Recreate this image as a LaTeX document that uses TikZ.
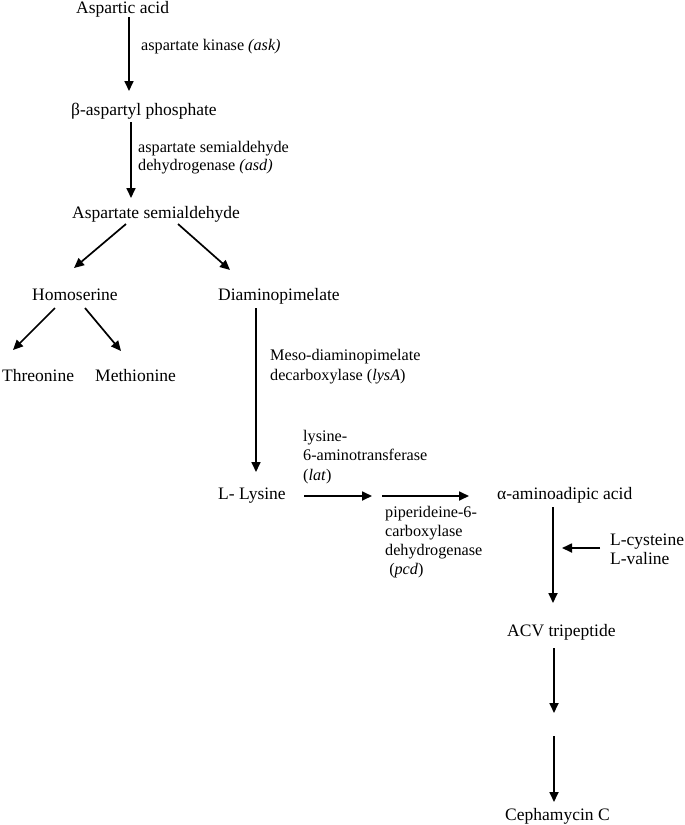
\documentclass[tikz,border=0pt]{standalone}
\usepackage{fontspec}
\setmainfont{Liberation Serif}
\usetikzlibrary{arrows.meta}
\begin{document}
\begin{tikzpicture}[x=1pt,y=-1pt,
  cmpd/.style={anchor=base west,inner sep=0pt,font=\fontsize{17.5}{21}\selectfont},
  enz/.style={anchor=base west,inner sep=0pt,align=left,font=\fontsize{16.2}{18.5}\selectfont},
  arr/.style={draw=black,line width=1.7pt,-{Triangle[length=10pt,width=9pt]}}]
\useasboundingbox[fill=white] (0,0) rectangle (685,825);
% compounds
\node[cmpd] (asp) at (76,13) {Aspartic acid};
\node[cmpd] (bap) at (71,115) {β-aspartyl phosphate};
\node[cmpd] (asa) at (72,218) {Aspartate semialdehyde};
\node[cmpd] (hom) at (32,300) {Homoserine};
\node[cmpd] (dap) at (218,300) {Diaminopimelate};
\node[cmpd] (thr) at (2,381) {Threonine};
\node[cmpd] (met) at (95,381) {Methionine};
\node[cmpd] (lys) at (218,499) {L- Lysine};
\node[cmpd] (aaa) at (497,499) {α-aminoadipic acid};
\node[cmpd] (acv) at (507,636) {ACV tripeptide};
\node[cmpd] (cep) at (505,820) {Cephamycin C};
\node[cmpd,font=\fontsize{17.5}{19}\selectfont,align=left] (cys) at (610,564) {L-cysteine\\L-valine};
% enzymes
\node[enz] (ask) at (141,50) {aspartate kinase \textit{(ask)}};
\node[enz,font=\fontsize{16.2}{17.5}\selectfont] (asd) at (138,170) {aspartate semialdehyde\\dehydrogenase \textit{(asd)}};
\node[enz,font=\fontsize{16.2}{19.5}\selectfont] (lysA) at (270,380) {Meso-diaminopimelate\\decarboxylase (\textit{lysA})};
\node[enz,font=\fontsize{16.2}{19.5}\selectfont] (lat) at (303,480) {lysine-\\6-aminotransferase\\(\textit{lat})};
\node[enz,font=\fontsize{16.2}{18.7}\selectfont] (pcd) at (385,574) {piperideine-6-\\carboxylase\\dehydrogenase\\\ (\textit{pcd})};
% connector end points
\coordinate (a1s) at (129,17);  \coordinate (a1e) at (129,91);
\coordinate (a2s) at (131,122); \coordinate (a2e) at (131,198);
\coordinate (a3s) at (126,224); \coordinate (a3e) at (74,268);
\coordinate (a4s) at (178,224); \coordinate (a4e) at (230,270);
\coordinate (a5s) at (55,308);  \coordinate (a5e) at (13,350);
\coordinate (a6s) at (85,308);  \coordinate (a6e) at (121,351);
\coordinate (a7s) at (256,308); \coordinate (a7e) at (256,472);
\coordinate (a8s) at (304,496); \coordinate (a8e) at (372,496);
\coordinate (a9s) at (382,496); \coordinate (a9e) at (469,496);
\coordinate (a10s) at (553,507); \coordinate (a10e) at (553,603);
\coordinate (a11s) at (600,548); \coordinate (a11e) at (562,548);
\coordinate (a12s) at (554,648); \coordinate (a12e) at (554,713);
\coordinate (a13s) at (554,736); \coordinate (a13e) at (554,802);
\foreach \i in {1,...,13} \draw[arr] (a\i s) -- (a\i e);
\end{tikzpicture}
\end{document}
